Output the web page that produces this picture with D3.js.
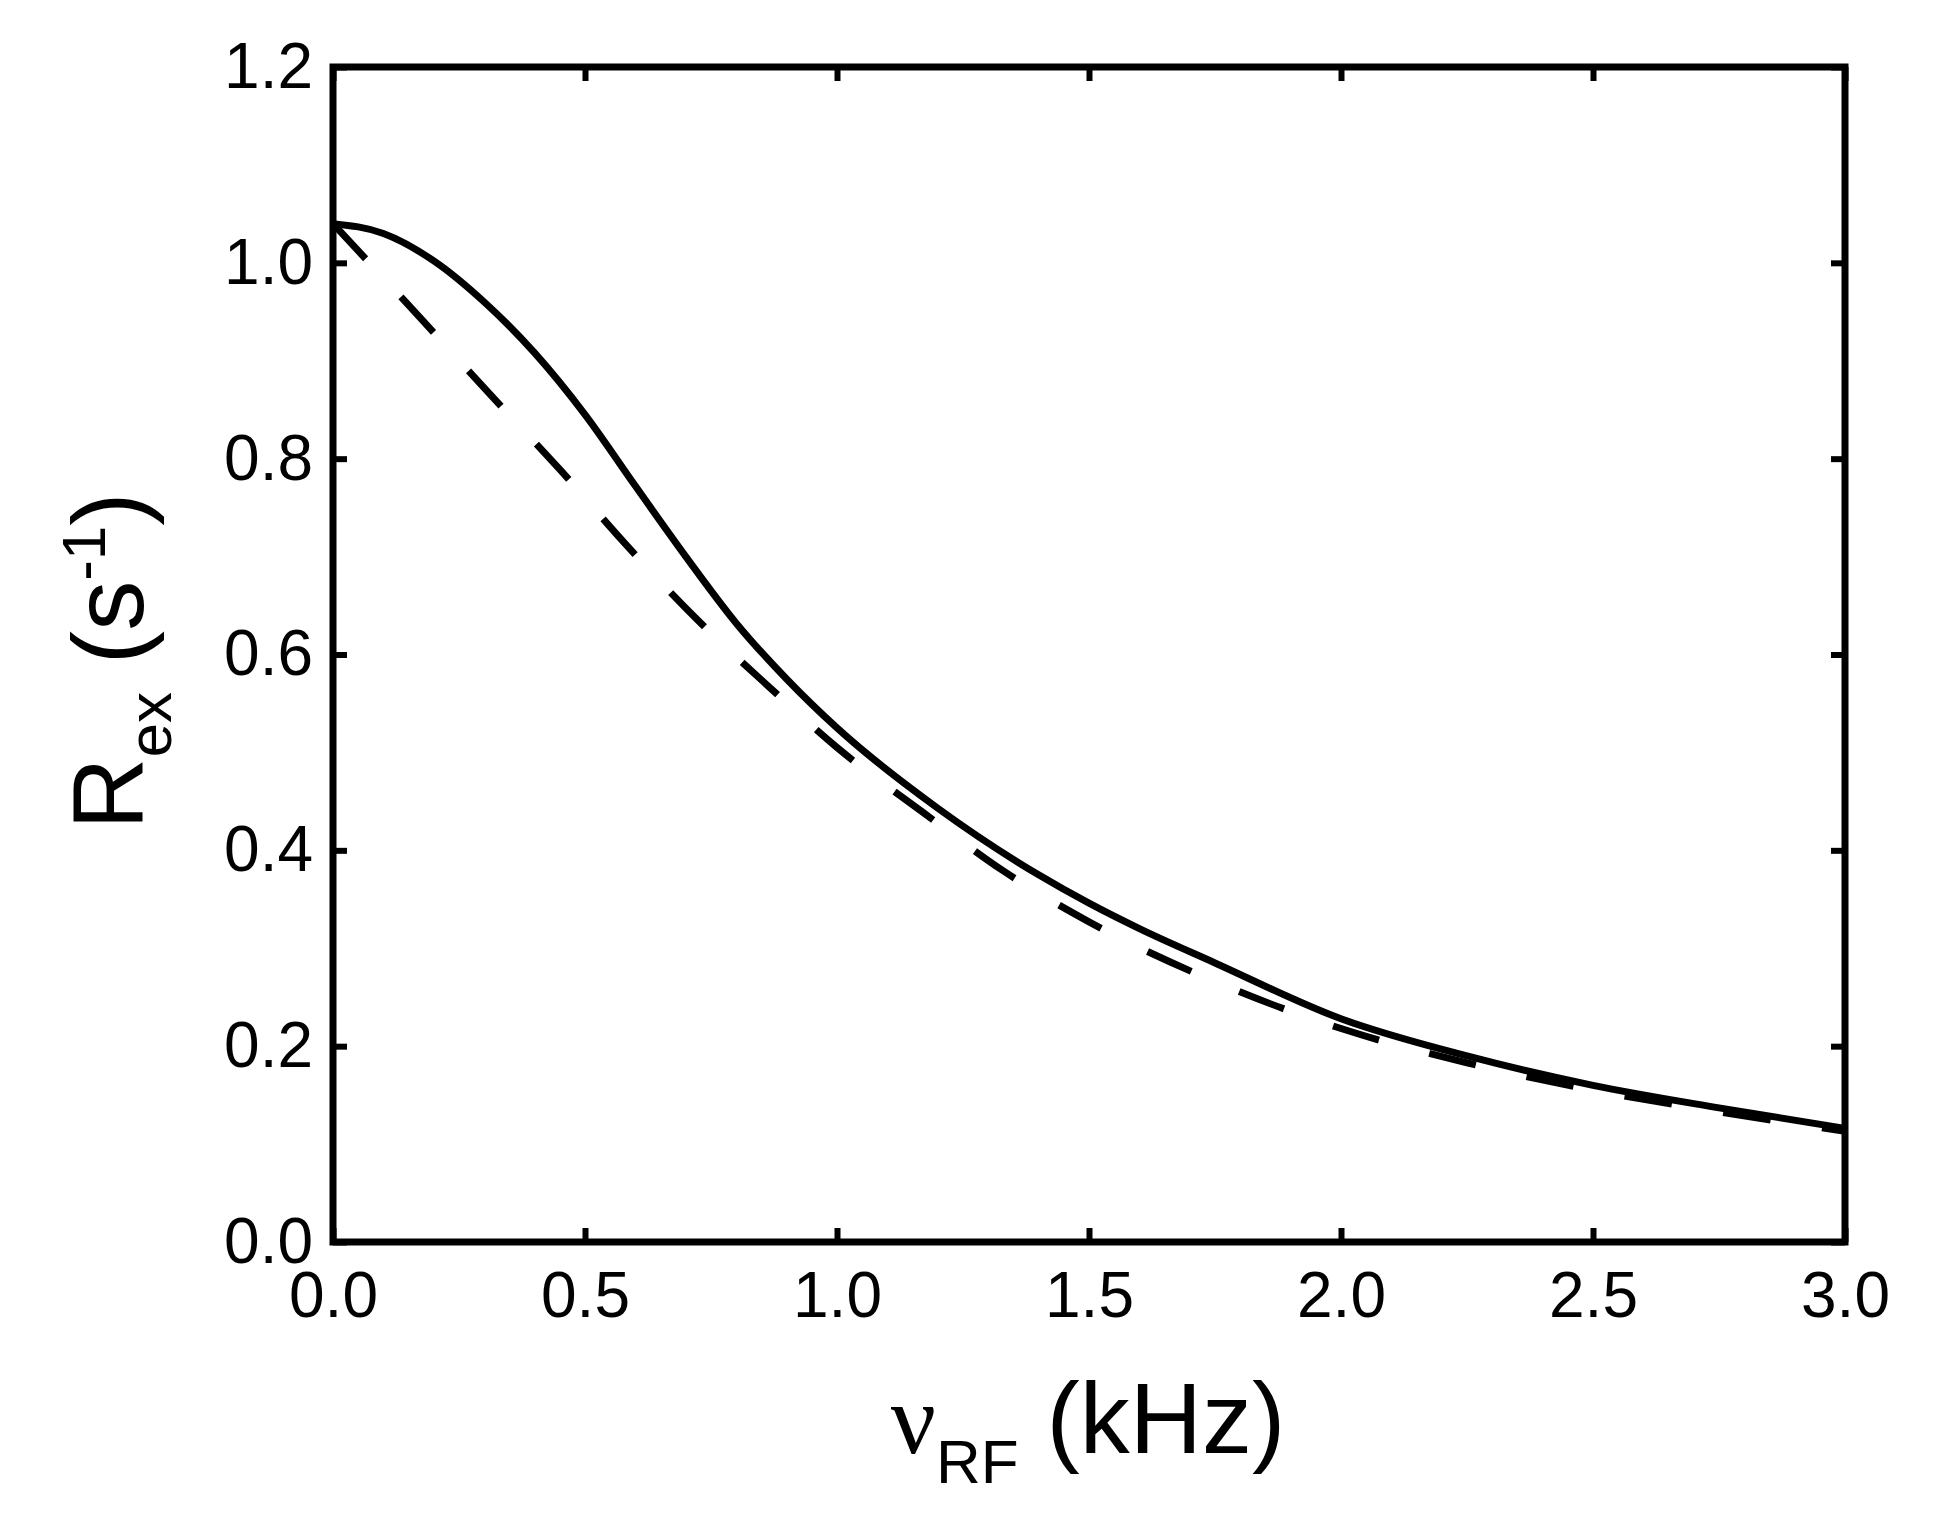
<!DOCTYPE html>
<html>
<head>
<meta charset="utf-8">
<script src="https://d3js.org/d3.v7.min.js"></script>
<style>
  body { margin: 0; background: #fff; }
  text { font-family: "Liberation Sans", Arial, sans-serif; fill: #000; }
</style>
</head>
<body>
<div id="chart"></div>
<script>
// solid curve (kHz, s^-1)
var solidX = [0, 0.1, 0.2, 0.3, 0.4, 0.5, 0.6, 0.7, 0.8, 0.9, 1.0, 1.2, 1.4, 1.5, 1.6, 1.75, 2.0, 2.25, 2.5, 2.75, 3.0];
var solidY = [1.04, 1.03, 1.002, 0.96, 0.908, 0.845, 0.772, 0.70, 0.632, 0.575, 0.525, 0.443, 0.375, 0.346, 0.32, 0.285, 0.228, 0.19, 0.16, 0.137, 0.116];
// dashed curve
var dashX = [0, 0.18, 0.32, 0.45, 0.58, 0.72, 0.865, 1.0, 1.17, 1.33, 1.5, 1.75, 2.0, 2.25, 2.5, 2.75, 3.0];
var dashY = [1.04, 0.94, 0.861, 0.789, 0.713, 0.637, 0.567, 0.505, 0.439, 0.379, 0.327, 0.266, 0.218, 0.183, 0.155, 0.133, 0.113];
var xTicks = [0, 0.5, 1.0, 1.5, 2.0, 2.5, 3.0];
var yTicks = [0, 0.2, 0.4, 0.6, 0.8, 1.0, 1.2];

var W = 1933, H = 1527;
var mLeft = 333, mRight = 1845, mTop = 67, mBottom = 1242;

var svg = d3.select("#chart").append("svg").attr("width", W).attr("height", H);

var x = d3.scaleLinear().domain([0, 3]).range([mLeft, mRight]);
var y = d3.scaleLinear().domain([0, 1.2]).range([mBottom, mTop]);

var line = d3.line().x(d => x(d[0])).y(d => y(d[1])).curve(d3.curveMonotoneX);

svg.append("path").datum(dashX.map((v, i) => [v, dashY[i]]))
   .attr("d", line).attr("fill", "none").attr("stroke", "#000")
   .attr("stroke-width", 7).attr("stroke-dasharray", "48,52");

svg.append("path").datum(solidX.map((v, i) => [v, solidY[i]]))
   .attr("d", line).attr("fill", "none").attr("stroke", "#000")
   .attr("stroke-width", 7);

// axes, ticks inward on all sides
var fmt = d3.format(".1f");
function styleAxis(g, hideText) {
  g.attr("font-size", 64).attr("font-family", "Liberation Sans, Arial, sans-serif");
  g.select(".domain").remove();
  g.selectAll(".tick line").attr("stroke", "#000").attr("stroke-width", 6);
  if (hideText) g.selectAll(".tick text").remove();
}
svg.append("g").attr("transform", `translate(0,${mBottom})`)
   .call(d3.axisBottom(x).tickValues(xTicks).tickFormat(fmt).tickSizeInner(-14).tickPadding(30))
   .call(g => styleAxis(g, false));
svg.append("g").attr("transform", `translate(0,${mTop})`)
   .call(d3.axisTop(x).tickValues(xTicks).tickSizeInner(-14))
   .call(g => styleAxis(g, true));
svg.append("g").attr("transform", `translate(${mLeft},0)`)
   .call(d3.axisLeft(y).tickValues(yTicks).tickFormat(fmt).tickSizeInner(-14).tickPadding(20))
   .call(g => styleAxis(g, false));
svg.append("g").attr("transform", `translate(${mRight},0)`)
   .call(d3.axisRight(y).tickValues(yTicks).tickSizeInner(-14))
   .call(g => styleAxis(g, true));

svg.append("rect").attr("x", mLeft).attr("y", mTop)
   .attr("width", mRight - mLeft).attr("height", mBottom - mTop)
   .attr("fill", "none").attr("stroke", "#000").attr("stroke-width", 7);

// x label
var xl = svg.append("text").attr("x", 1088).attr("y", 1453)
   .attr("text-anchor", "middle").style("font-size", "100px");
xl.append("tspan").text("ν").style("font-family", "Liberation Serif, Times New Roman, serif");
xl.append("tspan").text("RF").attr("dy", 30).style("font-size", "62px");
xl.append("tspan").text(" (kHz)").attr("dy", -30);

// y label
var yl = svg.append("text").attr("transform", "translate(143,661) rotate(-90)")
   .attr("text-anchor", "middle").style("font-size", "100px");
yl.append("tspan").text("R");
yl.append("tspan").text("ex").attr("dy", 28).style("font-size", "62px");
yl.append("tspan").text(" (s").attr("dy", -28);
yl.append("tspan").text("-1").attr("dy", -38).style("font-size", "62px");
yl.append("tspan").text(")").attr("dy", 38);
</script>
</body>
</html>
